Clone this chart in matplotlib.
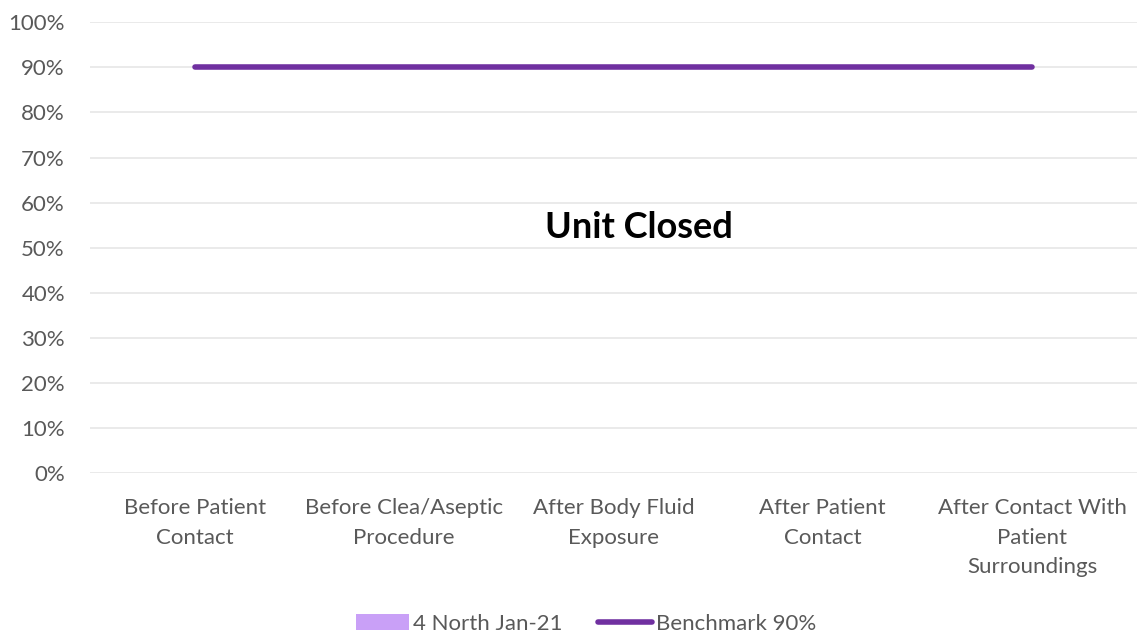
import numpy as np
import matplotlib.pyplot as plt
from matplotlib.ticker import PercentFormatter

plt.rcParams['font.family'] = ['Lato', 'DejaVu Sans']

categories = ["Before Patient\nContact", "Before Clea/Aseptic\nProcedure",
              "After Body Fluid\nExposure", "After Patient\nContact",
              "After Contact With\nPatient\nSurroundings"]
unit_values = [0, 0, 0, 0, 0]          # unit closed, no data
benchmark = [90, 90, 90, 90, 90]

TEXT = "#595959"
x = np.arange(len(categories))

fig = plt.figure(figsize=(11.38, 6.36), dpi=100)
ax = fig.add_axes([0.079, 0.256, 0.92, 0.709])

bars = ax.bar(x, unit_values, width=0.6, color="#C9A0F7", label="4 North Jan-21")
line, = ax.plot(x, benchmark, color="#7030A0", linewidth=4, solid_capstyle="round",
                label="Benchmark 90%")

ax.set_xlim(-0.5, len(categories) - 0.5)
ax.set_ylim(0, 100)
ax.set_yticks(np.arange(0, 101, 10))
ax.yaxis.set_major_formatter(PercentFormatter(decimals=0))
ax.set_xticks(x)
ax.set_xticklabels(categories, fontsize=16, color=TEXT, linespacing=1.6)
ax.tick_params(axis="y", labelsize=16, colors=TEXT, length=0, pad=18)
ax.tick_params(axis="x", length=0, pad=18)
ax.grid(axis="y", color="#E6E6E6", linewidth=1.2)
ax.set_axisbelow(True)
for s in ax.spines.values():
    s.set_visible(False)

ax.text(2.12, 54.5, "Unit Closed", fontsize=26, fontweight="bold",
        ha="center", va="center", color="black")

fig.legend([bars, line], ["4 North Jan-21", "Benchmark 90%"],
           loc="lower center", bbox_to_anchor=(0.515, -0.028), ncol=2,
           frameon=False, fontsize=16, labelcolor=TEXT, handlelength=2.4,
           handletextpad=0.2, columnspacing=1.6)

fig.savefig("out.png", dpi=100)
